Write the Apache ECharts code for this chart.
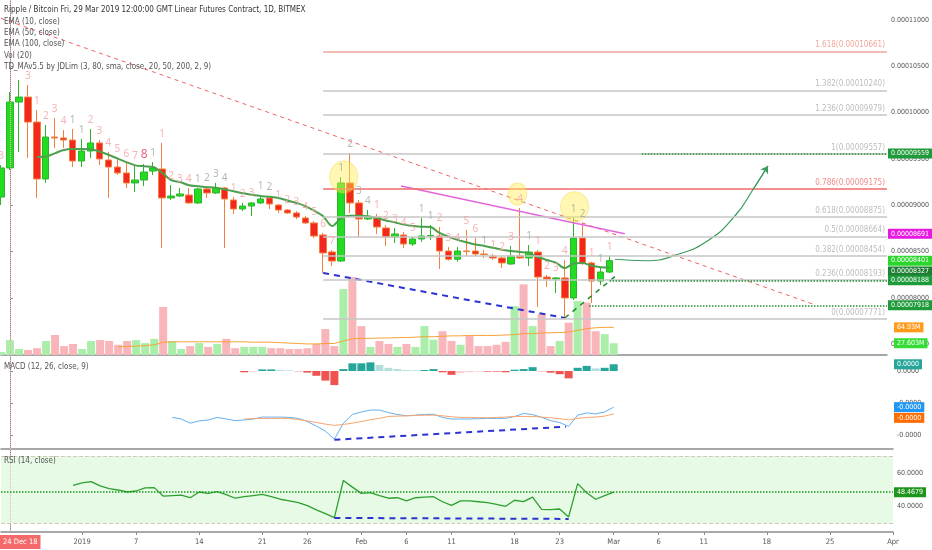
<!DOCTYPE html>
<html>
<head>
<meta charset="utf-8">
<title>XRP/BTC futures</title>
<script src="https://cdn.jsdelivr.net/npm/echarts/dist/echarts.min.js"></script>
<style>html,body{margin:0;padding:0;background:#fff;}#main{width:932px;height:550px;}</style>
</head>
<body>
<div id="main"></div>
<script>
var myChart = echarts.init(document.getElementById('main'));
var font = "'Liberation Sans Narrow', 'DejaVu Sans Condensed', sans-serif";

// day index 0 = 24 Dec 2018, one candle per day, prices in satoshi
var firstDay = -1;
var opens  = [9088,9402,10114,10168,9898,9283,9736,9726,9704,9477,9585,9672,9488,9412,9348,9240,9272,9369,9391,9078,9099,9110,9024,9175,9132,9186,9056,8959,8991,9024,9078,9002,8948,8916,8862,8808,8678,8495,8397,9240,9024,8851,8873,8754,8656,8678,8581,8635,8667,8667,8505,8416,8505,8505,8473,8451,8430,8365,8451,8430,8494,8224,8203,8214,7998,8646,8376,8181,8278];
var closes = [9402,10114,10168,9898,9283,9736,9726,9704,9477,9585,9672,9499,9412,9348,9240,9272,9358,9402,9078,9099,9121,9024,9175,9132,9186,9067,8959,8991,9024,9067,9013,8948,8916,8872,8808,8667,8484,8397,9240,9024,8851,8873,8764,8656,8689,8581,8635,8667,8672,8505,8416,8505,8500,8473,8465,8430,8376,8451,8430,8494,8224,8203,8214,7998,8646,8376,8181,8278,8401];
var lows   = [9002,9380,9574,9510,9078,9240,9618,9618,9412,9412,9510,9434,9078,9326,9186,9142,9207,9326,8538,9056,9088,9013,9013,9078,9120,8538,8905,8937,8883,9013,8959,8916,8905,8851,8797,8646,8268,8343,8386,8916,8656,8840,8689,8559,8592,8538,8559,8603,8624,8311,8400,8390,8451,8451,8430,8410,8322,8354,8420,8343,7900,8116,8051,7782,7976,8354,7944,8138,8268];
var highs  = [9434,10222,10352,10298,10028,9866,9942,9812,9823,9715,9823,9704,9574,9510,9456,9434,9445,9466,9672,9218,9186,9186,9186,9196,9240,9196,9088,9024,9034,9110,9099,9013,8959,8937,8883,8830,8700,8516,9304,9564,9056,8948,8905,8786,8754,8711,8657,8862,8786,8764,8548,8548,8732,8646,8516,8473,8451,8559,8970,8570,8516,8246,8224,8408,8862,8808,8390,8322,8451];
var volumes = [7,35,14,12,16,33,47,21,26,14,33,35,33,24,33,35,28,38,113,33,14,21,28,19,26,38,16,19,19,19,16,16,14,14,16,26,61,21,155,183,68,19,33,26,19,26,19,68,36,56,33,24,45,21,21,24,31,115,166,68,96,21,33,76,127,123,56,49,27.603];
var tdSetup = ['s3','','','s3','s1','s2','s3','s4','b1','b1','s2','s3','s4','s5','s6','s7','r8','b1','s1','s2','s3','s4','b1','b2','b3','b4','s1','s2','s3','b1','b2','s1','s2','s3','s4','s5','s6','s7','b1','b2','b3','b4','s1','s2','s3','s4','s5','b1','b1','s2','s3','s4','s5','s6','b1','s1','s2','s3','s4','b1','s1','s2','s3','s4','b1','b2','s1','b1','s1'];

var volMaStart = 12;
var volMa = [19,20,21,22,24,30,31,31,31,31,31,31,31,31,31,30,30,30,29,28,27,26,26,27,27,33,38,39,39,40,40,41,41,42,43,43,44,45,45,46,46,46,46,47,48,50,50,52,52,53,54,58,62,64,65,64.93];
var ema10Start = 3;
var ema10 = [9520,9525,9560,9595,9607,9607,9605,9580,9545,9505,9465,9430,9420,9412,9350,9270,9250,9215,9205,9195,9188,9170,9150,9130,9112,9100,9090,9078,9050,9025,8990,8940,8880,8775,8860,8885,8885,8880,8860,8835,8815,8790,8775,8768,8764,8700,8660,8625,8600,8575,8560,8540,8518,8505,8495,8484,8440,8408,8380,8320,8370,8375,8345,8330,8327];

var macdStart = 18;
var macdLine = [-145,-150,-163,-156,-153,-145,-150,-155,-153,-150,-144,-144,-144,-145,-148,-158,-172,-188,-213,-163,-136,-128,-122,-122,-130,-136,-140,-138,-136,-135,-145,-150,-150,-150,-149,-148,-148,-148,-142,-133,-136,-145,-155,-161,-173,-138,-131,-134,-128,-113];
var signalStart = 26;
var macdSignal = [-150,-149,-148,-148,-148,-148,-152,-156,-161,-166,-170,-167,-163,-158,-152,-148,-142,-141,-140,-139,-138,-138,-140,-143,-145,-145,-146,-146,-145,-144,-142,-142,-142,-144,-146,-149,-153,-148,-145,-144,-141,-134];
var histStart = 26;
var macdHist = [-4,-2,5,5,3,2,-1,-5,-15,-30,-44,6,24,24,27,19,10,6,3,2,3,6,-4,-12,-7,-4,-2,-2,-2,-4,4,6,12,-1,-5,-10,-23,10,16,8,10,21];
var rsiStart = 7;
var rsi = [52.6,54,54.8,52.2,50.6,49.8,48.6,49.2,51,51.2,46.2,46.5,46.8,45.2,48.6,47.8,48.8,47,44.9,45.8,46.5,47.2,45.8,44.3,43.3,42.3,40.5,38,35.7,33.4,55.5,51.5,47.8,48.2,46.5,44.9,45.2,43.3,45.2,45.5,45.8,42.8,40.7,43.3,43.3,42.8,42.3,41.2,40.1,43.7,42.9,45.6,38.3,38.1,38.5,33.8,53.6,48.2,44.3,46.5,48.4679];

var fibRatios = ['0','0.236','0.382','0.5','0.618','0.786','1','1.236','1.382','1.618'];
var fibPrices = [7771,8193,8454,8664,8875,9175,9557,9979,10240,10661];
var fibStartDay = 35;

// hand drawn annotations, [day, value]
var resistanceLine = [[-1, 11018], [89.7, 7933]];
var pinkLine = [[43.7, 9207], [68.7, 8691]];
var lowsLine = [[35, 8268], [62, 7782]];
var supportLine = [[62, 7782], [67.6, 8228]];
var projection = [[67.6, 8416], [71.1, 8400], [74.4, 8462], [78.1, 8624], [81.1, 8894], [83, 9164], [84.7, 9423]];
var highlights = [[37.3, 9304], [56.7, 9121], [63.1, 8984]];
var levelStarts = [70.6, 67, 64.7];
var levelValues = [9559, 8188, 7918];
var macdDivergence = [[36, -215], [61.7, -174]];
var rsiDivergence = [[36, 33.2], [62, 32.6]];
var pinkLineLast = 8691;

var timeTickDays = [8,14,21,28,33,39,44,49,56,61,67,72,77,84,91,98];
var timeTickLabels = ['2019','7','14','21','26','Feb','6','11','18','23','Mar','6','11','18','25','Apr'];

var xMin = -1, xMax = 98;

function series(start, arr) {
    return arr.map(function (v, i) { return [start + i, v]; });
}
function priceText(v) { return (v / 1e8).toFixed(8); }
function last(arr) { return arr[arr.length - 1]; }

var candles = opens.map(function (o, i) {
    return [firstDay + i, o, closes[i], lows[i], highs[i]];
});
var volBars = volumes.map(function (v, i) {
    return { value: [firstDay + i, v], itemStyle: { color: closes[i] >= opens[i] ? '#aaeeaa' : '#f8b6ba' } };
});
var tdPoints = [];
tdSetup.forEach(function (s, i) {
    if (!s) return;
    var kind = s.charAt(0);
    tdPoints.push({
        value: [firstDay + i, highs[i]],
        label: {
            formatter: s.slice(1),
            color: kind === 'b' ? '#9caa9c' : (kind === 'r' ? '#e2405a' : '#f3a0a0'),
            fontSize: kind === 'r' ? 12 : 10
        }
    });
});
var histBars = macdHist.map(function (v, i) {
    var prev = i > 0 ? macdHist[i - 1] : 0;
    var c;
    if (v >= 0) c = v >= prev ? '#26a69a' : '#b2dfdb';
    else c = v <= prev ? '#ef5350' : '#ffcdd2';
    return { value: [histStart + i, v], itemStyle: { color: c } };
});

function badge(value, bg, text, dy) {
    return {
        yAxis: value,
        lineStyle: { color: 'rgba(0,0,0,0)' },
        label: {
            show: true, position: 'end', distance: 1, offset: [0, dy || 0],
            formatter: text, backgroundColor: bg, color: '#fff',
            padding: [2, 3, 1, 3], fontSize: 7, fontFamily: font
        }
    };
}
var crosshair = {
    silent: true, symbol: 'none', animation: false,
    lineStyle: { color: '#f4b0b0', type: 'dotted', width: 1 },
    label: { show: false },
    data: [{ xAxis: 0 }]
};

var fibMarks = fibPrices.map(function (p, i) {
    var r = fibRatios[i];
    var col = r === '0.786' ? '#f26b6b' : (r === '1.618' ? '#f4a49c' : '#c6c6c6');
    var txt = r === '0.786' ? '#f08a8a' : (r === '1.618' ? '#f2a89c' : '#bdbdbd');
    return [{
        coord: [fibStartDay, p],
        lineStyle: { color: col, width: 1.5, type: 'solid' },
        label: { show: true, position: 'insideEndTop', distance: 2, formatter: r + '(' + priceText(p) + ')', color: txt, fontSize: 8, fontFamily: font }
    }, { coord: [xMax, p] }];
});

var levelMarks = levelValues.map(function (v, i) {
    return [{
        coord: [levelStarts[i], v],
        lineStyle: { color: '#1f8f33', width: 1.5, type: 'dotted' },
        label: { show: true, position: 'end', distance: 1, formatter: priceText(v), backgroundColor: '#1e9a3a', color: '#fff', padding: [2, 3, 1, 3], fontSize: 7, fontFamily: font }
    }, { coord: [xMax, v] }];
});

function xAxisFor(idx, extra) {
    var a = {
        gridIndex: idx, type: 'value', min: xMin, max: xMax,
        axisLine: { show: true, onZero: false, lineStyle: { color: '#8c8c8c', width: 1.5 } },
        axisTick: { show: false }, axisLabel: { show: false }, splitLine: { show: false }
    };
    for (var k in extra) a[k] = extra[k];
    return a;
}
function yAxisFor(idx, min, max, split, fmt) {
    return {
        gridIndex: idx, type: 'value', position: 'right', min: min, max: max, splitNumber: split,
        axisLine: { show: true, lineStyle: { color: '#8c8c8c' } },
        axisTick: { show: true, length: 3, lineStyle: { color: '#8c8c8c' } },
        axisLabel: { formatter: fmt, fontSize: 7, color: '#555', margin: 4, showMinLabel: false, showMaxLabel: false, fontFamily: font },
        splitLine: { show: false }
    };
}
function legendLine(text, top, color) {
    return { text: text, left: 4, top: top, padding: 0, textStyle: { fontSize: 8, fontWeight: 'normal', color: color || '#555', fontFamily: font } };
}

myChart.setOption({
    animation: false,
    backgroundColor: '#fff',
    title: [
        legendLine('Ripple / Bitcoin Fri, 29 Mar 2019 12:00:00 GMT Linear Futures Contract, 1D, BITMEX', 6, '#333'),
        legendLine('EMA (10, close)', 18),
        legendLine('EMA (50, close)', 29),
        legendLine('EMA (100, close)', 40),
        legendLine('Vol (20)', 52),
        legendLine('TD_MAv5.5 by JDLim (3, 80, sma, close, 20, 50, 200, 2, 9)', 63),
        legendLine('MACD (12, 26, close, 9)', 363),
        legendLine('RSI (14, close)', 457),
        { text: '24 Dec 18', left: 0, top: 535, padding: [3, 3, 3, 3], backgroundColor: '#f46a6a',
          textStyle: { fontSize: 7.5, fontWeight: 'normal', color: '#fff', fontFamily: font } }
    ],
    grid: [
        { left: 1, right: 39, top: 0, height: 355 },
        { left: 1, right: 39, top: 255, height: 100 },
        { left: 1, right: 39, top: 357, height: 92 },
        { left: 1, right: 39, top: 449, height: 83 }
    ],
    xAxis: [
        xAxisFor(0),
        xAxisFor(1, { show: false }),
        xAxisFor(2),
        xAxisFor(3, {
            axisTick: { show: true, length: 3, customValues: timeTickDays, lineStyle: { color: '#8c8c8c' } },
            axisLabel: {
                show: true, customValues: timeTickDays, fontSize: 7.5, color: '#555', margin: 6, fontFamily: font,
                formatter: function (v) { return timeTickLabels[timeTickDays.indexOf(v)] || ''; }
            }
        })
    ],
    yAxis: [
        yAxisFor(0, 7382, 11216, 7, priceText),
        { gridIndex: 1, type: 'value', min: 0, max: 235, show: false, splitLine: { show: false } },
        yAxisFor(2, -243.75, 43.75, 3, function (v) { return (v / 1e8).toFixed(4); }),
        yAxisFor(3, 24.83, 74.16, 3, function (v) { return v.toFixed(4); })
    ],
    series: [
        {
            name: 'Vol', type: 'bar', xAxisIndex: 1, yAxisIndex: 1, data: volBars, barWidth: 8, z: 1,
            markLine: { silent: true, symbol: 'none', animation: false, data: [badge(last(volumes), '#33dd33', last(volumes) + 'M')] }
        },
        {
            name: 'Vol MA', type: 'line', xAxisIndex: 1, yAxisIndex: 1, data: series(volMaStart, volMa), symbol: 'none', z: 2,
            lineStyle: { color: '#f7a235', width: 1 },
            markLine: { silent: true, symbol: 'none', animation: false, data: [badge(last(volMa), '#ff9a1a', last(volMa) + 'M')] }
        },
        {
            name: 'resistance', type: 'line', xAxisIndex: 0, yAxisIndex: 0, data: resistanceLine, symbol: 'none', z: 2,
            lineStyle: { color: '#f06262', width: 1, type: [4, 4] },
            markLine: { silent: true, symbol: 'none', animation: false, data: fibMarks }
        },
        {
            name: 'price', type: 'candlestick', xAxisIndex: 0, yAxisIndex: 0, data: candles, barWidth: 7, z: 3,
            itemStyle: { color: '#22dc22', color0: '#f2281e', borderColor: '#2db42d', borderColor0: '#f5803e', borderWidth: 1 },
            markLine: crosshair
        },
        {
            name: 'EMA10', type: 'line', xAxisIndex: 0, yAxisIndex: 0, data: series(ema10Start, ema10), symbol: 'none', z: 4,
            smooth: 0.3, lineStyle: { color: '#4c9f4c', width: 2 },
            markLine: {
                silent: true, symbol: 'none', animation: false,
                data: [badge(last(closes), '#2bd62b', priceText(last(closes))), badge(last(ema10), '#1e7e34', priceText(last(ema10)), 4)].concat(levelMarks)
            }
        },
        {
            name: 'pink', type: 'line', xAxisIndex: 0, yAxisIndex: 0, data: pinkLine, symbol: 'none', z: 4,
            lineStyle: { color: '#e466dc', width: 1.5 },
            markLine: { silent: true, symbol: 'none', animation: false, data: [badge(pinkLineLast, '#e619e0', priceText(pinkLineLast))] }
        },
        {
            name: 'lows', type: 'line', xAxisIndex: 0, yAxisIndex: 0, data: lowsLine, symbol: 'none', z: 4,
            lineStyle: { color: '#2b33d0', width: 2, type: [6, 5] }
        },
        {
            name: 'support', type: 'line', xAxisIndex: 0, yAxisIndex: 0, data: supportLine, symbol: 'none', z: 4,
            lineStyle: { color: '#1c8a2c', width: 1.5, type: [5, 5] }
        },
        {
            name: 'projection', type: 'line', xAxisIndex: 0, yAxisIndex: 0, data: projection, symbol: 'none', z: 4,
            smooth: 0.5, lineStyle: { color: '#3c9a5c', width: 1.2 },
            markLine: {
                silent: true, symbol: ['none', 'arrow'], symbolSize: 7, animation: false,
                lineStyle: { color: '#3c9a5c', width: 1.2, type: 'solid' }, label: { show: false },
                data: [[{ coord: projection[projection.length - 2] }, { coord: last(projection) }]]
            }
        },
        {
            name: 'highlight', type: 'scatter', xAxisIndex: 0, yAxisIndex: 0, z: 5,
            data: [
                { value: highlights[0], symbolSize: [28, 32] },
                { value: highlights[1], symbolSize: [19, 22] },
                { value: highlights[2], symbolSize: [28, 30] }
            ],
            itemStyle: { color: 'rgba(255,236,80,0.55)', borderColor: 'rgba(240,210,40,0.5)', borderWidth: 1 }
        },
        {
            name: 'TD', type: 'scatter', xAxisIndex: 0, yAxisIndex: 0, z: 6, data: tdPoints, symbolSize: 1,
            itemStyle: { color: 'rgba(0,0,0,0)' },
            label: { show: true, position: 'top', distance: 3, fontFamily: 'Noto Sans, sans-serif' }
        },
        {
            name: 'Histogram', type: 'bar', xAxisIndex: 2, yAxisIndex: 2, data: histBars, barWidth: 8,
            markLine: {
                silent: true, symbol: 'none', animation: false,
                lineStyle: { color: '#f4b0b0', type: 'dotted', width: 1 },
                data: [{ xAxis: 0, label: { show: false } }, badge(last(macdHist), '#26a69a', (last(macdHist) / 1e8).toFixed(4))]
            }
        },
        {
            name: 'MACD', type: 'line', xAxisIndex: 2, yAxisIndex: 2, data: series(macdStart, macdLine), symbol: 'none',
            lineStyle: { color: '#64b0f0', width: 1 },
            markLine: { silent: true, symbol: 'none', animation: false, data: [badge(last(macdLine), '#2196f3', (last(macdLine) / 1e8).toFixed(4))] }
        },
        {
            name: 'Signal', type: 'line', xAxisIndex: 2, yAxisIndex: 2, data: series(signalStart, macdSignal), symbol: 'none',
            lineStyle: { color: '#f8a46c', width: 1 },
            markLine: { silent: true, symbol: 'none', animation: false, data: [badge(last(macdSignal), '#ff6d00', (last(macdSignal) / 1e8).toFixed(4), 4)] }
        },
        {
            name: 'macdDiv', type: 'line', xAxisIndex: 2, yAxisIndex: 2, data: macdDivergence, symbol: 'none',
            lineStyle: { color: '#2b33d0', width: 2, type: [6, 5] }
        },
        {
            name: 'RSI', type: 'line', xAxisIndex: 3, yAxisIndex: 3, data: series(rsiStart, rsi), symbol: 'none', z: 3,
            lineStyle: { color: '#2ea02e', width: 1.3 },
            markArea: { silent: true, itemStyle: { color: '#e6fae6' }, data: [[{ yAxis: 70 }, { yAxis: 30 }]] },
            markLine: {
                silent: true, symbol: 'none', animation: false,
                data: [
                    { yAxis: 70, lineStyle: { color: '#cfcbb4', type: 'dashed', width: 1 }, label: { show: false } },
                    { yAxis: 30, lineStyle: { color: '#cfcbb4', type: 'dashed', width: 1 }, label: { show: false } },
                    { xAxis: 0, lineStyle: { color: '#f4b0b0', type: 'dotted', width: 1 }, label: { show: false } },
                    {
                        yAxis: last(rsi), lineStyle: { color: '#1f9a1f', type: 'dotted', width: 1.5 },
                        label: { show: true, position: 'end', distance: 1, formatter: last(rsi).toFixed(4), backgroundColor: '#1e961e', color: '#fff', padding: [2, 3, 1, 3], fontSize: 7, fontFamily: font }
                    }
                ]
            }
        },
        {
            name: 'rsiDiv', type: 'line', xAxisIndex: 3, yAxisIndex: 3, data: rsiDivergence, symbol: 'none', z: 4,
            lineStyle: { color: '#2b33d0', width: 2, type: [6, 5] }
        }
    ]
});
</script>
</body>
</html>
